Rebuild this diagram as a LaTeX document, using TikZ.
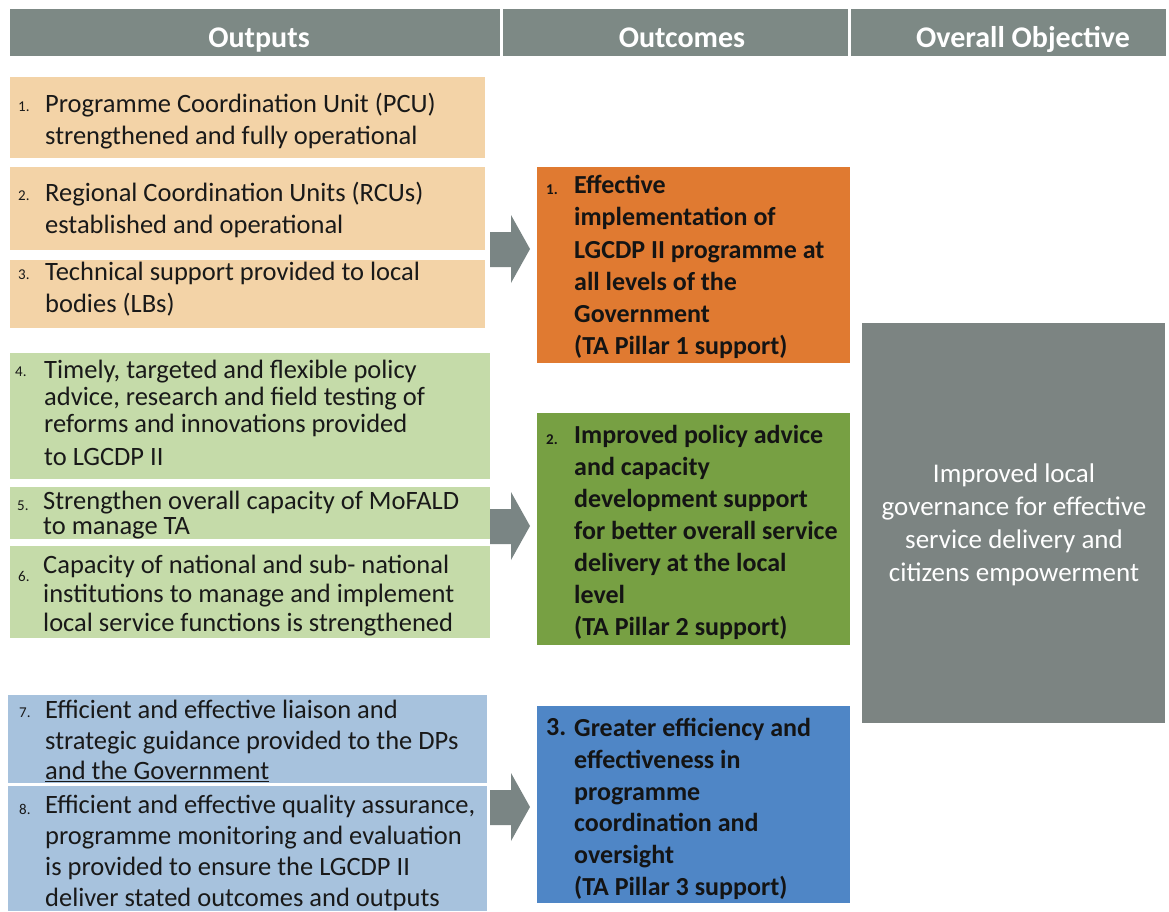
\documentclass[tikz,border=0pt]{standalone}
\usepackage{fontspec}
\setmainfont{Carlito}
\begin{document}
\definecolor{hdrgray}{HTML}{7D8985}
\definecolor{tan}{HTML}{F3D3A7}
\definecolor{lgreen}{HTML}{C5DBA9}
\definecolor{lblue}{HTML}{A7C2DD}
\definecolor{orng}{HTML}{E07A31}
\definecolor{dgreen}{HTML}{77A043}
\definecolor{dblue}{HTML}{4F86C6}
\definecolor{objgray}{HTML}{7C8482}
\definecolor{arrgray}{HTML}{7A8584}
\begin{tikzpicture}[x=1pt,y=-1pt,
  panel/.style={rectangle, inner sep=0pt, outer sep=0pt, draw=none, anchor=north west},
  hdrtxt/.style={font=\bfseries\fontsize{30}{36}\selectfont, text=white, inner sep=0pt, anchor=base},
  outtxt/.style={font=\fontsize{26.5}{32}\selectfont, align=left, inner sep=0pt, anchor=north west, text=black!90},
  outnum/.style={font=\fontsize{15}{18}\selectfont, inner sep=0pt, anchor=west, text=black!90},
  octxt/.style={font=\bfseries\fontsize{26}{32.3}\selectfont, align=left, inner sep=0pt, anchor=north west, text=black!92},
  ocnum/.style={font=\bfseries\fontsize{15}{18}\selectfont, inner sep=0pt, anchor=west, text=black!92},
  objtxt/.style={font=\fontsize{27}{32.7}\selectfont, align=center, inner sep=0pt, anchor=north, text=white},
  blockarrow/.style={fill=arrgray, draw=none}
]
\useasboundingbox (0,0) rectangle (1169,911);
\fill[white] (0,0) rectangle (1169,911);

% column headers
\node[panel, fill=hdrgray, minimum width=490pt, minimum height=47pt] (h1) at (10,9) {};
\node[panel, fill=hdrgray, minimum width=345pt, minimum height=47pt] (h2) at (503,9) {};
\node[panel, fill=hdrgray, minimum width=315pt, minimum height=47pt] (h3) at (851,9) {};
\node[hdrtxt] (h1t) at (259,47) {Outputs};
\node[hdrtxt] (h2t) at (682,47) {Outcomes};
\node[hdrtxt] (h3t) at (1023,47) {Overall Objective};

% outputs, pillar 1
\node[panel, fill=tan, minimum width=475pt, minimum height=81pt] (b1) at (10,77) {};
\node[panel, fill=tan, minimum width=475pt, minimum height=83pt] (b2) at (10,167) {};
\node[panel, fill=tan, minimum width=475pt, minimum height=68pt] (b3) at (10,260) {};
\node[outnum] (n1) at (18,107) {1.};
\node[outtxt] (t1) at (45,93) {Programme Coordination Unit (PCU)\\strengthened and fully operational};
\node[outnum] (n2) at (18,196) {2.};
\node[outtxt] (t2) at (45,182) {Regional Coordination Units (RCUs)\\established and operational};
\node[outnum] (n3) at (18,275) {3.};
\node[outtxt] (t3) at (45,262) {Technical support provided to local\\bodies (LBs)};

% outputs, pillar 2
\node[panel, fill=lgreen, minimum width=480pt, minimum height=126pt] (b4) at (10,353) {};
\node[panel, fill=lgreen, minimum width=480pt, minimum height=52pt] (b5) at (10,487) {};
\node[panel, fill=lgreen, minimum width=480pt, minimum height=92pt] (b6) at (10,546) {};
\node[outnum] (n4) at (15,372) {4.};
\node[outtxt, font=\fontsize{26.5}{26.7}\selectfont] (t4) at (44,360) {Timely, targeted and flexible policy\\advice, research and field testing of\\reforms and innovations provided\\[7pt]to LGCDP II};
\node[outnum] (n5) at (17,506) {5.};
\node[outtxt, font=\fontsize{26.5}{24.5}\selectfont] (t5) at (43,491) {Strengthen overall capacity of MoFALD\\to manage TA};
\node[outnum] (n6) at (18,576) {6.};
\node[outtxt, font=\fontsize{26.5}{29}\selectfont] (t6) at (43,555) {Capacity of national and sub- national\\institutions to manage and implement\\local service functions is strengthened};

% outputs, pillar 3
\node[panel, fill=lblue, minimum width=479pt, minimum height=88pt] (b7) at (8,695) {};
\node[panel, fill=lblue, minimum width=479pt, minimum height=125pt] (b8) at (8,786) {};
\node[outnum] (n7) at (19,713) {7.};
\node[outtxt, font=\fontsize{26.5}{30.5}\selectfont] (t7) at (45,700) {Efficient and effective liaison and\\strategic guidance provided to the DPs\\\underline{and the Government}};
\node[outnum] (n8) at (19,809) {8.};
\node[outtxt, font=\fontsize{26.5}{31}\selectfont] (t8) at (45,795) {Efficient and effective quality assurance,\\programme monitoring and evaluation\\is provided to ensure the LGCDP II\\deliver stated outcomes and outputs};

% outcomes
\node[panel, fill=orng, minimum width=313pt, minimum height=196pt] (oc1) at (537,167) {};
\node[ocnum] (m1) at (546,190) {1.};
\node[octxt] (u1) at (574,175) {Effective\\implementation of\\LGCDP II programme at\\all levels of the\\Government\\(TA Pillar 1 support)};

\node[panel, fill=dgreen, minimum width=313pt, minimum height=232pt] (oc2) at (537,413) {};
\node[ocnum] (m2) at (546,440) {2.};
\node[octxt, font=\bfseries\fontsize{26}{32}\selectfont] (u2) at (574,425) {Improved policy advice\\and capacity\\development support\\for better overall service\\delivery at the local\\level\\(TA Pillar 2 support)};

\node[panel, fill=dblue, minimum width=313pt, minimum height=197pt] (oc3) at (537,706) {};
\node[octxt, font=\bfseries\fontsize{26}{31.8}\selectfont] (m3) at (546,718) {3.};
\node[octxt, font=\bfseries\fontsize{26}{31.8}\selectfont] (u3) at (574,718) {Greater efficiency and\\effectiveness in\\programme\\coordination and\\oversight\\(TA Pillar 3 support)};

% overall objective
\node[panel, fill=objgray, minimum width=303pt, minimum height=400pt] (obj) at (862,323) {};
\node[objtxt] (objt) at (1014,464) {Improved local\\governance for effective\\service delivery and\\citizens empowerment};

% block arrows from the output groups to their outcomes
\coordinate (a1) at (530,249);
\coordinate (a2) at (530,526);
\coordinate (a3) at (530,807);
\foreach \c in {a1,a2,a3}{
  \fill[blockarrow] (\c) -- ++(-19,-34) -- ++(0,17) -- ++(-21,0) -- ++(0,35)
    -- ++(21,0) -- ++(0,16) -- cycle;
}
\end{tikzpicture}
\end{document}
